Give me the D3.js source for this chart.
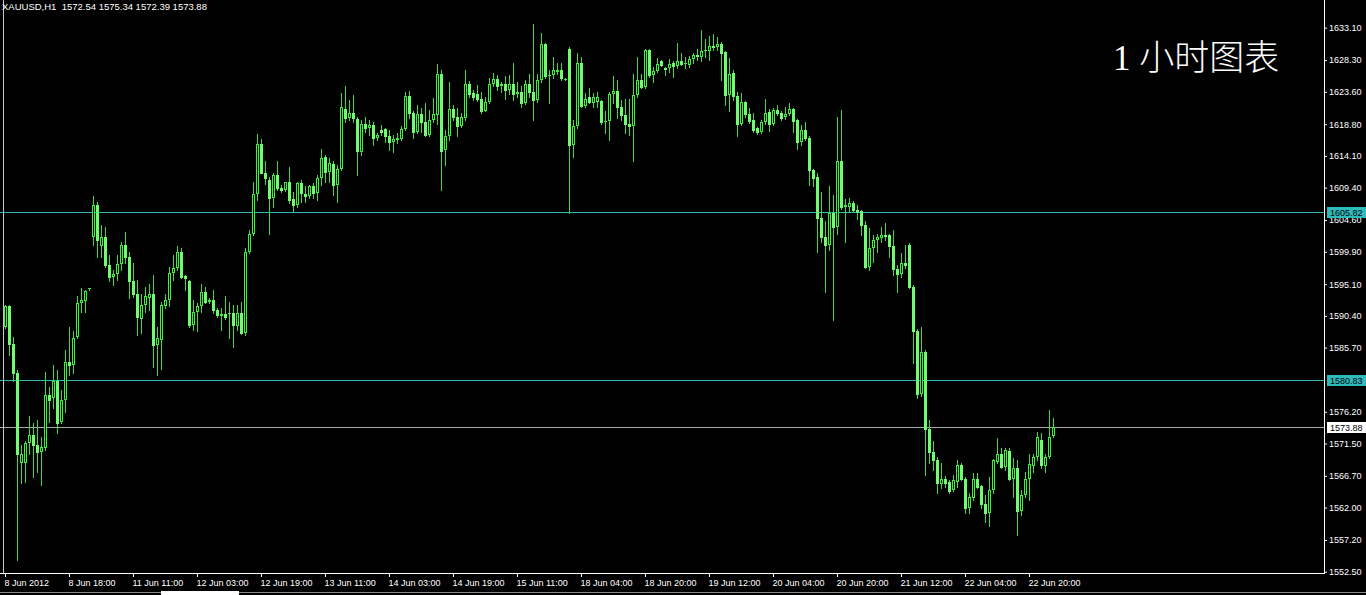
<!DOCTYPE html>
<html><head><meta charset="utf-8">
<script src="https://cdn.jsdelivr.net/npm/d3@7"></script>
<style>html,body{margin:0;padding:0;background:#000;overflow:hidden}svg{display:block}</style>
</head><body><svg id="c" width="1366" height="595"></svg>
<script>
const symbolText = "XAUUSD,H1";
const lastOHLC = ["1572.54", "1575.34", "1572.39", "1573.88"];
const chartTitle = "1 小时图表";

const opens = [
1588.8,1591.8,1586.3,1582.0,1568.6,1568.6,1571.5,1572.8,1571.3,1570.3,
1570.8,1578.7,1578.2,1580.8,1574.7,1577.9,1583.6,1583.1,1587.3,1592.3,
1592.6,1594.4,1602.1,1606.8,1600.7,1602.1,1597.9,1596.2,1596.6,1598.1,
1600.9,1599.2,1595.5,1593.7,1590.0,1592.0,1593.1,1593.6,1586.1,1586.9,
1591.9,1592.8,1596.7,1597.5,1599.9,1596.3,1595.5,1589.1,1591.0,1591.8,
1594.0,1592.5,1592.7,1591.3,1590.4,1590.7,1590.8,1590.8,1588.9,1590.9,
1587.8,1599.8,1602.5,1608.4,1615.9,1611.6,1610.6,1607.9,1611.3,1609.4,
1609.0,1610.3,1607.7,1606.8,1610.1,1608.5,1608.1,1609.6,1608.6,1610.8,
1613.9,1611.7,1612.9,1609.8,1612.2,1621.1,1619.7,1620.4,1619.6,1614.7,
1618.9,1618.2,1618.7,1616.7,1617.9,1618.1,1617.0,1616.2,1616.5,1616.6,
1618.1,1623.0,1620.4,1617.7,1620.3,1619.2,1617.2,1619.4,1620.2,1626.3,
1615.0,1617.0,1621.0,1619.8,1618.5,1619.7,1624.8,1623.4,1623.3,1622.6,
1620.8,1622.1,1624.8,1625.5,1624.5,1624.7,1623.9,1624.7,1623.3,1623.5,
1622.0,1624.8,1623.5,1622.4,1625.4,1630.7,1625.9,1626.1,1626.6,1626.9,
1625.5,1629.9,1615.7,1618.5,1627.9,1621.5,1622.8,1622.0,1622.1,1622.3,
1619.2,1619.3,1623.3,1623.7,1621.4,1620.2,1618.9,1618.6,1623.1,1625.4,
1624.3,1629.8,1626.1,1626.7,1628.1,1627.2,1627.2,1627.8,1627.4,1628.2,
1627.7,1627.6,1628.4,1629.1,1628.8,1629.6,1629.7,1630.4,1630.2,1630.7,
1629.5,1623.1,1626.4,1623.0,1618.9,1622.1,1620.3,1619.4,1618.3,1617.6,
1619.2,1620.6,1618.8,1620.9,1620.4,1619.8,1620.3,1621.1,1619.4,1616.1,
1617.9,1616.8,1612.0,1611.0,1604.9,1602.1,1600.9,1605.6,1603.5,1613.3,
1606.6,1606.6,1607.2,1606.1,1605.9,1603.9,1597.7,1600.4,1601.6,1602.0,
1602.4,1602.4,1600.7,1597.4,1596.6,1598.2,1600.9,1594.7,1588.2,1578.8,
1585.1,1573.7,1570.3,1569.0,1565.5,1566.2,1565.8,1564.6,1565.8,1568.3,
1566.3,1562.0,1563.4,1566.2,1565.2,1562.6,1561.2,1564.6,1568.8,1570.0,
1568.0,1570.4,1566.2,1567.9,1561.5,1563.9,1566.3,1568.2,1569.5,1572.0,
1568.1,1569.5,1572.54];

const highs = [
1592.0,1592.0,1587.3,1582.4,1571.3,1571.8,1575.5,1574.5,1575.0,1572.5,
1582.1,1579.9,1583.1,1582.4,1579.4,1585.4,1588.8,1588.1,1593.3,1594.5,
1594.2,1594.6,1608.1,1607.3,1603.9,1603.6,1599.4,1597.2,1599.4,1601.4,
1602.9,1599.9,1598.2,1595.7,1593.7,1594.7,1595.2,1596.5,1588.8,1592.5,
1593.7,1597.7,1599.4,1600.7,1600.4,1596.5,1595.7,1592.8,1592.3,1595.1,
1594.7,1593.0,1594.2,1591.5,1591.5,1593.4,1592.5,1592.0,1592.0,1592.5,
1600.4,1603.1,1610.3,1617.4,1616.6,1613.3,1611.0,1611.5,1613.3,1609.8,
1610.3,1612.5,1608.8,1610.3,1610.5,1609.6,1609.8,1610.1,1611.3,1615.2,
1614.3,1613.8,1613.3,1612.8,1623.4,1624.4,1622.4,1623.1,1619.9,1619.4,
1619.9,1619.4,1619.2,1617.5,1618.7,1618.3,1617.9,1617.2,1617.5,1618.6,
1623.6,1623.7,1620.7,1621.7,1621.2,1621.9,1620.9,1622.7,1627.7,1626.8,
1617.9,1625.1,1621.7,1621.2,1620.4,1626.8,1625.2,1623.9,1624.6,1623.5,
1622.9,1625.6,1626.4,1626.1,1625.1,1625.9,1626.1,1627.8,1625.1,1624.4,
1625.4,1626.2,1633.7,1626.3,1632.3,1630.8,1626.8,1628.7,1627.9,1627.8,
1625.6,1630.2,1619.4,1629.3,1628.7,1623.4,1624.1,1623.4,1623.6,1622.4,
1620.7,1623.6,1625.9,1625.4,1622.4,1622.6,1622.6,1626.3,1628.8,1626.3,
1630.0,1630.0,1627.3,1628.6,1628.3,1627.3,1628.4,1628.2,1630.8,1629.4,
1628.8,1628.9,1629.3,1630.0,1632.8,1631.4,1631.8,1632.2,1631.7,1631.0,
1629.7,1628.6,1626.8,1623.6,1623.4,1622.2,1621.2,1620.4,1618.4,1619.4,
1622.5,1621.1,1621.2,1621.6,1620.7,1621.4,1621.9,1621.2,1619.6,1618.7,
1619.1,1617.0,1612.2,1611.5,1608.7,1604.4,1609.6,1608.3,1619.9,1620.9,
1607.7,1607.8,1607.4,1606.9,1606.1,1604.4,1603.4,1602.4,1602.6,1603.6,
1604.1,1602.6,1603.1,1597.9,1599.7,1600.9,1601.2,1595.0,1588.4,1588.8,
1585.3,1575.0,1571.8,1569.5,1568.6,1566.7,1566.1,1566.8,1569.0,1568.6,
1566.6,1564.1,1567.1,1567.1,1565.3,1563.9,1566.6,1569.2,1572.3,1570.8,
1570.8,1570.8,1569.3,1569.0,1564.6,1567.3,1569.9,1570.0,1573.2,1573.0,
1570.0,1576.5,1575.34];

const lows = [
1588.6,1584.6,1580.7,1554.2,1565.7,1565.8,1570.0,1566.6,1567.3,1565.4,
1570.5,1574.7,1576.7,1573.0,1574.5,1576.2,1581.6,1581.9,1587.1,1591.0,
1591.0,1594.3,1600.9,1599.2,1599.2,1597.7,1595.5,1595.0,1595.7,1597.2,
1598.2,1593.0,1593.2,1587.6,1587.8,1591.0,1591.3,1582.9,1581.7,1582.6,
1591.5,1591.8,1595.7,1597.2,1596.0,1594.2,1588.8,1588.3,1588.1,1591.0,
1592.3,1592.3,1590.8,1590.3,1588.3,1590.0,1587.1,1585.8,1588.3,1587.7,
1587.6,1599.7,1602.4,1607.6,1611.5,1610.0,1602.6,1606.5,1609.0,1608.8,
1608.9,1607.1,1605.9,1606.6,1607.3,1607.3,1607.8,1607.8,1607.6,1609.8,
1610.3,1610.3,1608.3,1607.3,1612.0,1619.2,1619.4,1619.2,1611.3,1614.2,
1617.7,1617.2,1615.7,1616.5,1617.2,1616.2,1615.0,1614.7,1616.0,1616.5,
1617.9,1619.7,1616.8,1617.5,1617.7,1617.0,1617.0,1619.2,1618.9,1609.1,
1612.8,1616.5,1619.4,1617.0,1618.4,1619.4,1622.9,1622.4,1622.3,1620.4,
1620.7,1622.0,1624.4,1623.9,1623.6,1622.6,1623.3,1622.4,1622.9,1621.4,
1621.8,1622.9,1619.4,1622.1,1625.1,1625.7,1621.9,1625.6,1626.3,1625.4,
1625.4,1605.6,1614.0,1618.3,1621.3,1621.3,1621.9,1621.3,1621.4,1618.9,
1617.5,1616.5,1621.9,1619.7,1619.4,1617.5,1617.2,1613.3,1622.9,1624.1,
1624.1,1625.8,1625.1,1626.6,1627.4,1626.1,1626.6,1625.8,1627.2,1627.6,
1627.1,1627.3,1627.8,1628.3,1628.1,1628.8,1628.3,1629.8,1629.8,1625.4,
1621.7,1620.7,1622.4,1617.1,1618.7,1619.8,1619.0,1617.7,1617.4,1617.5,
1618.9,1617.8,1618.7,1620.2,1619.4,1619.6,1620.1,1617.7,1615.2,1615.7,
1616.5,1609.8,1609.7,1599.9,1601.4,1594.0,1600.2,1589.8,1602.6,1606.3,
1601.4,1605.8,1605.9,1604.8,1602.4,1597.5,1597.2,1598.4,1599.9,1601.4,
1601.7,1599.2,1596.5,1593.9,1596.2,1597.5,1594.5,1583.4,1578.2,1578.6,
1566.8,1568.6,1567.6,1564.1,1564.9,1565.1,1564.1,1564.4,1565.1,1566.1,
1561.2,1561.2,1563.1,1564.9,1561.9,1559.9,1559.2,1564.1,1568.6,1567.8,
1567.5,1566.1,1563.6,1557.9,1560.9,1563.6,1563.1,1567.3,1569.0,1567.8,
1567.3,1569.4,1572.39];

const closes = [
1591.8,1586.3,1582.0,1570.0,1570.0,1571.5,1572.8,1571.3,1570.3,1571.0,
1578.7,1578.0,1580.8,1574.5,1577.9,1583.6,1583.1,1587.1,1592.3,1592.8,
1594.1,1594.5,1606.8,1601.6,1602.1,1597.9,1596.2,1596.6,1598.1,1600.9,
1599.2,1595.5,1593.7,1590.3,1592.0,1593.3,1593.6,1586.1,1587.1,1592.0,
1592.8,1596.7,1597.5,1599.9,1596.2,1596.0,1589.1,1591.0,1591.8,1594.0,
1592.4,1592.8,1591.3,1590.5,1590.7,1590.3,1590.8,1589.1,1590.9,1587.8,
1599.8,1602.5,1608.4,1615.9,1611.6,1610.8,1607.9,1611.3,1609.4,1609.0,
1610.2,1607.6,1606.8,1610.1,1608.6,1608.2,1609.6,1608.6,1610.8,1613.8,
1611.7,1613.0,1609.8,1612.2,1621.3,1619.7,1620.4,1619.7,1614.8,1618.9,
1618.2,1618.7,1616.7,1617.2,1617.6,1617.0,1616.2,1616.6,1616.7,1618.1,
1623.0,1620.4,1617.7,1620.3,1619.2,1617.2,1619.4,1620.3,1626.3,1614.8,
1617.0,1621.0,1619.8,1618.5,1619.8,1624.8,1623.3,1622.8,1622.5,1620.8,
1622.1,1624.8,1625.5,1624.5,1624.8,1623.9,1624.7,1623.3,1623.5,1622.0,
1624.8,1623.5,1622.4,1625.4,1630.7,1625.9,1626.1,1626.8,1626.9,1625.6,
1625.5,1615.7,1618.5,1627.9,1621.5,1622.5,1622.1,1622.8,1622.9,1619.2,
1619.3,1623.3,1623.7,1621.4,1620.2,1618.9,1618.6,1623.1,1625.4,1624.3,
1629.8,1626.1,1626.7,1627.7,1627.6,1627.1,1627.7,1627.4,1628.1,1627.7,
1627.9,1628.4,1629.1,1628.9,1629.6,1629.8,1630.4,1630.3,1630.7,1629.3,
1623.1,1626.3,1623.0,1618.9,1622.1,1620.3,1619.3,1617.9,1617.6,1619.2,
1620.4,1618.8,1620.9,1620.4,1619.7,1620.3,1621.1,1619.3,1616.1,1617.9,
1616.7,1612.0,1610.8,1604.9,1602.1,1600.9,1605.6,1603.5,1613.3,1606.6,
1606.8,1607.2,1606.1,1605.8,1603.9,1597.7,1600.4,1601.6,1602.1,1602.4,
1602.3,1600.7,1597.4,1596.6,1598.2,1598.0,1594.7,1588.2,1578.8,1585.1,
1573.7,1570.3,1569.0,1565.6,1566.3,1565.7,1564.4,1566.1,1568.3,1566.3,
1562.0,1563.5,1566.2,1565.1,1562.6,1561.2,1564.6,1569.0,1569.9,1568.0,
1570.5,1566.2,1567.8,1561.5,1563.9,1566.3,1568.5,1569.5,1572.5,1568.3,
1569.5,1572.5,1573.88];

const timeLabels = ["8 Jun 2012","8 Jun 18:00","11 Jun 11:00","12 Jun 03:00","12 Jun 19:00",
  "13 Jun 11:00","14 Jun 03:00","14 Jun 19:00","15 Jun 11:00","18 Jun 04:00","18 Jun 20:00",
  "19 Jun 12:00","20 Jun 04:00","20 Jun 20:00","21 Jun 12:00","22 Jun 04:00","22 Jun 20:00"];
const labelEvery = 16;
const priceTicks = [1633.10,1628.30,1623.60,1618.80,1614.10,1609.40,1604.60,1599.90,1595.10,
  1590.40,1585.70,1576.20,1571.50,1566.70,1562.00,1557.20,1552.50];
const levelValues = [1605.82, 1580.83, 1573.88];
const levelKinds = ["cyan", "cyan", "bid"];

// ---------------- drawing ----------------
const W = 1366, H = 595;
const plotRight = 1325, plotBottom = 573.5;
const WICK = "#34e034", EDGE = "#3cf03c", BEAR = "#72fb72";
const CYAN = "#2cbcbc", GRAY = "#a8a8a8";
const FONT = "'Liberation Sans', Arial, sans-serif";

const svg = d3.select("#c");
svg.append("rect").attr("width", W).attr("height", H).attr("fill", "#000");

const n = closes.length;
const idx = d3.range(n);
const xs = d3.scaleLinear().domain([0, n - 1]).range([5, 5 + 4 * (n - 1)]);
const ys = d3.scaleLinear().domain([1552.50, 1633.10]).range([571.7, 27.7]);

// horizontal levels
const lv = svg.append("g");
lv.selectAll("line").data(levelValues).join("line")
  .attr("x1", 0).attr("x2", plotRight)
  .attr("y1", d => Math.round(ys(d)) + 0.5).attr("y2", d => Math.round(ys(d)) + 0.5)
  .attr("stroke", (d, i) => levelKinds[i] === "cyan" ? CYAN : GRAY).attr("stroke-width", 1);

// candles
const cg = svg.append("g");
cg.selectAll("line.w").data(idx).join("line").attr("class", "w")
  .attr("x1", i => Math.round(xs(i)) + 0.5).attr("x2", i => Math.round(xs(i)) + 0.5)
  .attr("y1", i => Math.round(ys(highs[i])))
  .attr("y2", i => Math.round(ys(lows[i])) + 1)
  .attr("stroke", WICK).attr("stroke-width", 1);

function bodyBox(i) {
  let t = Math.round(ys(Math.max(opens[i], closes[i])));
  let b = Math.round(ys(Math.min(opens[i], closes[i])));
  if (b - t < 1) b = t + 1;
  return [t, b];
}
const bears = idx.filter(i => closes[i] < opens[i]);
const bulls = idx.filter(i => closes[i] >= opens[i]);
cg.selectAll("rect.bear").data(bears).join("rect").attr("class", "bear")
  .attr("x", i => Math.round(xs(i)) - 1).attr("width", 3)
  .attr("y", i => bodyBox(i)[0]).attr("height", i => { const [t, b] = bodyBox(i); return Math.max(1, b - t + 1); })
  .attr("fill", BEAR);
cg.selectAll("rect.bull").data(bulls).join("rect").attr("class", "bull")
  .each(function (i) {
    const [t, b] = bodyBox(i);
    const cx = Math.round(xs(i));
    const s = d3.select(this);
    if (b - t <= 2) {
      s.attr("x", cx - 1).attr("y", t).attr("width", 3).attr("height", Math.max(1, b - t)).attr("fill", EDGE);
    } else {
      s.attr("x", cx - 0.5).attr("y", t + 0.5).attr("width", 2).attr("height", b - t - 1)
        .attr("fill", "#000").attr("stroke", EDGE).attr("stroke-width", 1);
    }
  });

// frame lines
svg.append("line").attr("x1", 3.5).attr("x2", 3.5).attr("y1", 0).attr("y2", plotBottom).attr("stroke", "#c8c8c8");
svg.append("line").attr("x1", 0).attr("x2", plotRight).attr("y1", plotBottom).attr("y2", plotBottom).attr("stroke", "#fff");
svg.append("line").attr("x1", plotRight - 0.5).attr("x2", plotRight - 0.5).attr("y1", 0).attr("y2", plotBottom).attr("stroke", "#fff");

// price axis
const yAxis = d3.axisRight(ys).tickValues(priceTicks).tickFormat(d3.format(".2f")).tickSize(3).tickPadding(2);
const ya = svg.append("g").attr("transform", `translate(${plotRight - 1},0)`).call(yAxis);
ya.select(".domain").remove();
ya.selectAll(".tick line").attr("stroke", "#fff");
ya.selectAll(".tick text").attr("fill", "#fff").attr("font-family", FONT).attr("font-size", 9);

// level tags
const tags = svg.append("g");
levelValues.forEach((v, i) => {
  const yy = Math.round(ys(v));
  tags.append("rect").attr("x", 1327).attr("y", yy - 5).attr("width", 39).attr("height", 11)
    .attr("fill", levelKinds[i] === "cyan" ? CYAN : "#fff");
  tags.append("text").attr("x", 1330).attr("y", yy + 4).text(d3.format(".2f")(v))
    .attr("fill", "#000").attr("font-family", FONT).attr("font-size", 9);
});

// time axis
const tickIdx = timeLabels.map((d, k) => k * labelEvery);
const xAxis = d3.axisBottom(xs).tickValues(tickIdx).tickFormat((d, k) => timeLabels[k]).tickSize(4).tickPadding(1);
const xa = svg.append("g").attr("transform", `translate(0,${plotBottom - 0.5})`).call(xAxis);
xa.select(".domain").remove();
xa.selectAll(".tick line").attr("stroke", "#fff");
xa.selectAll(".tick text").attr("fill", "#fff").attr("font-family", FONT).attr("font-size", 9)
  .attr("text-anchor", "start").attr("x", -1).attr("y", 7);

// bottom bar
svg.append("line").attr("x1", 0).attr("x2", W).attr("y1", 592.5).attr("y2", 592.5).attr("stroke", "#8a8a8a");
svg.append("rect").attr("x", 161).attr("y", 591).attr("width", 78).attr("height", 4).attr("fill", "#fff");

// header
svg.append("text").attr("x", 2).attr("y", 10)
  .attr("fill", "#fff").attr("font-family", FONT).attr("font-size", 9.5)
  .style("white-space", "pre")
  .text(symbolText + "  " + lastOHLC.join(" "));

// title
svg.append("text").attr("x", 1113).attr("y", 70)
  .attr("fill", "#fff").attr("font-family", "'Liberation Serif', 'Noto Sans CJK SC', serif")
  .attr("font-size", 35).attr("font-weight", 300)
  .text(chartTitle);
</script>
</body></html>
